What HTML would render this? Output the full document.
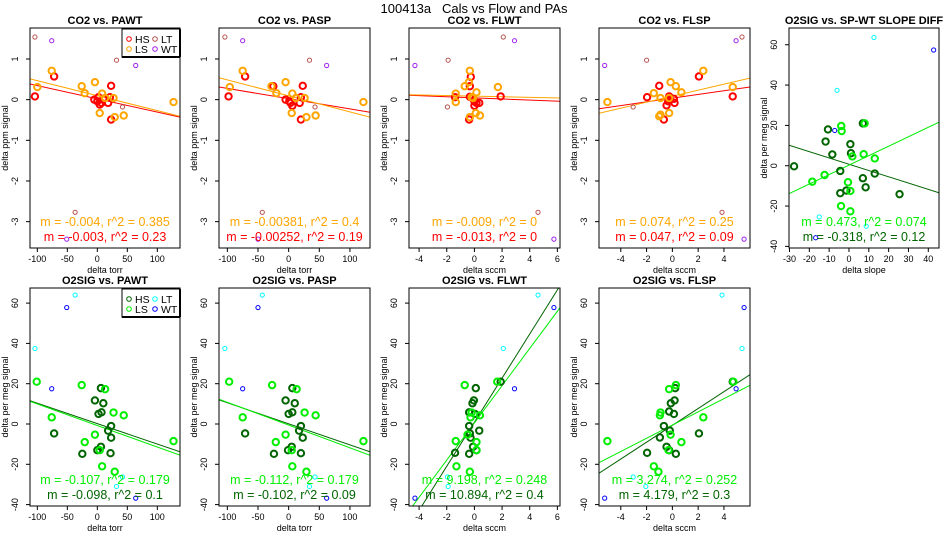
<!DOCTYPE html>
<html><head><meta charset="utf-8"><style>
html,body{margin:0;padding:0;background:#fff;}
svg{display:block;font-family:"Liberation Sans",sans-serif;}
</style></head><body>
<svg id="fig" width="950" height="550" viewBox="0 0 950 550"></svg>
<script>
// ---- data (per panel, per series: [x, y]) ----
const co2_pawt_HS=[[-104,0.08],[-72,0.57],[-5,0],[0,-0.04],[4,-0.12],[7,-0.08],[23,0.34],[21,0.06],[18,-0.08],[23,-0.49],[2,0.06],[10,0.02]];
const co2_pawt_LS=[[-100,0.31],[-76,0.71],[-26,0.33],[-21,0.16],[-4,0.43],[8,0.15],[4,-0.33],[27,0.04],[29,-0.43],[44,-0.39],[127,-0.06],[13,0.04]];
const co2_pawt_LT=[[-104,1.54],[32,0.97],[42,-0.18],[-37,-2.77]];
const co2_pawt_WT=[[-76,1.45],[64,0.84],[-51,-3.43]];
const co2_pasp_HS=[[-98,0.08],[-71,0.57],[-25,0.33],[-5,0],[1,-0.04],[6,-0.15],[18,-0.08],[20,0.06],[23,0.34],[20,-0.49],[3,-0.08]];
const co2_pasp_LS=[[-96,0.31],[-75,0.71],[-28,0.33],[-20,0.16],[-5,0.43],[6,0.15],[5,-0.33],[26,0.04],[29,-0.43],[44,-0.39],[122,-0.06],[12,0.04]];
const co2_pasp_LT=[[-104,1.54],[34,0.97],[43,-0.18],[-43,-2.77]];
const co2_pasp_WT=[[-75,1.45],[62,0.84],[-50,-3.43]];
const co2_flwt_HS=[[-0.26,0.56],[-0.33,0.33],[-1.4,0.06],[-0.33,0.07],[0,-0.04],[0,-0.15],[0.15,-0.08],[0.35,-0.08],[-0.38,-0.49],[1.9,0.08],[-0.15,0.04]];
const co2_flwt_LS=[[-0.33,0.71],[-0.4,0.43],[-0.7,0.33],[-1.35,0.15],[-1.35,-0.06],[0.15,0.18],[1.7,0.31],[-0.33,-0.43],[0.1,-0.33],[0.4,-0.39],[-0.1,0.04],[-0.2,0.06]];
const co2_flwt_LT=[[2.09,1.54],[-1.9,0.97],[-1.95,-0.18],[4.6,-2.77]];
const co2_flwt_WT=[[2.9,1.45],[-4.3,0.84],[5.75,-3.43]];
const co2_flsp_HS=[[-1.96,0.06],[-1.02,0.34],[-0.66,-0.49],[-0.25,0.08],[-0.32,-0.04],[-0.45,-0.14],[0.12,0.02],[0.17,-0.08],[-0.2,0],[2.06,0.57],[4.68,0.08]];
const co2_flsp_LS=[[-5.04,-0.06],[-1.44,0.16],[-0.92,0.04],[-1.02,-0.41],[-0.92,-0.37],[-0.25,-0.33],[-0.14,0.43],[0.27,0.33],[0.7,0.18],[2.4,0.71],[4.68,0.31],[-0.25,0.04]];
const co2_flsp_LT=[[-3.04,-0.18],[-2.0,0.97],[5.4,1.54],[3.85,-2.77]];
const co2_flsp_WT=[[-5.25,0.84],[4.94,1.45],[5.56,-3.43]];
const o2_slope_HS=[[-27.7,-0.3],[-11.8,12],[-8.4,5.6],[-4.4,-2.6],[0.7,10.7],[1,6.2],[7,21],[7,-6.2],[-4.4,-13.6],[-1.3,-12.3],[8.4,-10.7],[13,-3.9],[25.5,-14.1],[-10.6,18]];
const o2_slope_LS=[[-18.5,-7.9],[-12.3,-4.6],[-3.9,19.7],[1.7,4.6],[-0.5,-8.2],[0.7,-12.5],[-4,-20],[0.7,-22.6],[7.4,5.7],[13,3.6],[7.9,21],[-3.7,17.2]];
const o2_slope_LT=[[12.6,63.6],[-6,37.4],[-15,-25.4],[8.7,-30]];
const o2_slope_WT=[[42.7,57.4],[-7.2,17.5],[-16.8,-35.7]];
const o2_pawt_HS=[[-4,11.7],[2,5],[7,5.8],[10,10.3],[23,-1],[18,-3.3],[23,-6.8],[6,-11.3],[0,-13],[-25,-14.8],[-72,-4.7],[22,-14.5],[6,17.8]];
const o2_pawt_LS=[[-101,21],[-76,3.3],[-26,19.3],[-21,-9],[-4,-5.3],[4,-13],[8,-21],[27,5.7],[29,-23.7],[44,4.3],[127,-8.5],[13,17.3]];
const o2_pawt_LT=[[-104,37.5],[-37,64],[42,-26.3],[32,-31]];
const o2_pawt_WT=[[-51,57.8],[-76,17.5],[64,-36.8]];
const o2_pasp_HS=[[-5,11.7],[0,5],[6,5.8],[10,10.3],[20,-1],[17,-3.3],[23,-6.8],[5,-11.3],[-1,-13],[-24,-14.8],[-71,-4.7],[20,-14.5],[6,17.8]];
const o2_pasp_LS=[[-97,21],[-75,3.3],[-27,19.3],[-21,-9],[-5,-5.3],[5,-13],[6,-21],[26,5.7],[29,-23.7],[44,4.3],[122,-8.5],[13,17.3]];
const o2_pasp_LT=[[-104,37.5],[-43,64],[43,-26.3],[34,-31]];
const o2_pasp_WT=[[-50,57.8],[-75,17.5],[62,-36.8]];
const o2_flwt_HS=[[-0.04,11.7],[-0.14,10.3],[-0.38,5.8],[0.03,5],[-0.38,-1],[0.35,-3.3],[-0.33,-4.7],[-0.28,-6.8],[-0.1,-11.3],[0.15,-13],[-1.4,-14.3],[-0.38,-14.8],[1.9,21],[0.1,17.8]];
const o2_flwt_LS=[[-0.7,19.3],[1.65,21],[-0.28,3.3],[0.4,4.3],[-0.2,5.7],[-0.5,-5.3],[-1.35,-8.5],[0.15,-9],[-1.3,-21],[-0.33,-23.7],[0.15,-13]];
const o2_flwt_LT=[[4.6,64],[2.09,37.5],[-1.95,-26.3],[-1.9,-31]];
const o2_flwt_WT=[[5.75,57.8],[2.9,17.5],[-4.3,-36.8]];
const o2_flsp_HS=[[0.17,11.7],[-0.12,10.3],[-0.25,6.2],[0.12,5],[-0.66,-1],[-0.2,-3.3],[-0.97,-6.7],[-0.45,-11.3],[-0.25,-13],[-1.96,-14.3],[0.27,-14.8],[2.06,-4.7],[4.68,21],[0.22,17.8]];
const o2_flsp_LS=[[0.27,19.3],[4.73,21],[-0.92,5.7],[-0.97,4.3],[2.4,3.3],[-0.14,-5.3],[0.7,-9],[-5.04,-8.5],[-1.44,-21],[-1.08,-23.7],[-0.3,-13],[-0.25,17.3]];
const o2_flsp_LT=[[3.85,64],[5.4,37.5],[-3.04,-26.3],[-2.06,-31]];
const o2_flsp_WT=[[5.56,57.8],[4.94,17.5],[-5.25,-36.8]];
// fit lines: [intercept, slope]
const fit_co2_pawt=[[0.02,-0.00326],[0.098,-0.00368]];
const fit_co2_pasp=[[0.024,-0.002517],[0.093,-0.003938]];
const fit_co2_flwt=[[0.044,-0.0135],[0.086,-0.00735]];
const fit_co2_flsp=[[0.036,0.0455],[0.086,0.0738]];
const fit_o2_slope=[[0.75,-0.3118],[0.31,0.469]];
const fit_o2_pawt=[[0.17,-0.1012],[-0.76,-0.1068]];
const fit_o2_pasp=[[0.1,-0.1047],[-0.52,-0.1129]];
const fit_o2_flwt=[[0.9,10.94],[0.55,9.234]];
const fit_o2_flsp=[[-0.67,4.18],[-0.54,3.279]];
// ticks
const ticksTorr=[-100,-50,0,50,100];
const ticksFlwt=[-4,-2,0,2,4,6];
const ticksFlsp=[-4,-2,0,2,4];
const ticksSlope=[-30,-20,-10,0,10,20,30,40];
const ticksCO2=[1,0,-1,-2,-3];
const ticksO2=[60,40,20,0,-20,-40];
// stat labels
const stats_co2_pawt=["m = -0.004, r^2 = 0.385","m = -0.003, r^2 = 0.23"];
const stats_co2_pasp=["m = -0.00381, r^2 = 0.4","m = -0.00252, r^2 = 0.19"];
const stats_co2_flwt=["m = -0.009, r^2 = 0","m = -0.013, r^2 = 0"];
const stats_co2_flsp=["m = 0.074, r^2 = 0.25","m = 0.047, r^2 = 0.09"];
const stats_o2_slope=["m = 0.473, r^2 = 0.074","m = -0.318, r^2 = 0.12"];
const stats_o2_pawt=["m = -0.107, r^2 = 0.179","m = -0.098, r^2 = 0.1"];
const stats_o2_pasp=["m = -0.112, r^2 = 0.179","m = -0.102, r^2 = 0.09"];
const stats_o2_flwt=["m = 9.198, r^2 = 0.248","m = 10.894, r^2 = 0.4"];
const stats_o2_flsp=["m = 3.274, r^2 = 0.252","m = 4.179, r^2 = 0.3"];

const NS="http://www.w3.org/2000/svg";
const svg=document.getElementById('fig');
function mk(tag,attrs,parent){const e=document.createElementNS(NS,tag);for(const k in attrs)e.setAttribute(k,attrs[k]);(parent||svg).appendChild(e);return e;}

const CO2C={HS:'#ff0000',LS:'#ffa500',LT:'#b5524f',WT:'#a020f0'};
const O2C={HS:'#006400',LS:'#00ee00',LT:'#00ffff',WT:'#0000ff'};
const cols=[[30,180],[219,370],[409,560],[599,750],[789,939]];
const rows=[[28,248],[288,506]];

const panels=[
 {c:0,r:0,title:'CO2 vs. PAWT',xd:[-112.2,137.8],yd:[1.762,-3.648],xt:ticksTorr,yt:ticksCO2,xl:'delta torr',yl:'delta ppm signal',s:[co2_pawt_HS,co2_pawt_LS,co2_pawt_LT,co2_pawt_WT],f:fit_co2_pawt,st:stats_co2_pawt,col:CO2C,leg:true,name:'co2-vs-pawt'},
 {c:1,r:0,title:'CO2 vs. PASP',xd:[-113.6,132.7],yd:[1.762,-3.648],xt:ticksTorr,yt:ticksCO2,xl:'delta torr',yl:'delta ppm signal',s:[co2_pasp_HS,co2_pasp_LS,co2_pasp_LT,co2_pasp_WT],f:fit_co2_pasp,st:stats_co2_pasp,col:CO2C,name:'co2-vs-pasp'},
 {c:2,r:0,title:'CO2 vs. FLWT',xd:[-4.73,6.19],yd:[1.762,-3.648],xt:ticksFlwt,yt:ticksCO2,xl:'delta sccm',yl:'delta ppm signal',s:[co2_flwt_HS,co2_flwt_LS,co2_flwt_LT,co2_flwt_WT],f:fit_co2_flwt,st:stats_co2_flwt,col:CO2C,name:'co2-vs-flwt'},
 {c:3,r:0,title:'CO2 vs. FLSP',xd:[-5.69,6.02],yd:[1.762,-3.648],xt:ticksFlsp,yt:ticksCO2,xl:'delta sccm',yl:'delta ppm signal',s:[co2_flsp_HS,co2_flsp_LS,co2_flsp_LT,co2_flsp_WT],f:fit_co2_flsp,st:stats_co2_flsp,col:CO2C,name:'co2-vs-flsp'},
 {c:4,r:0,title:'O2SIG vs. SP-WT SLOPE DIFF',xd:[-30.25,45.4],yd:[68.3,-40.8],xt:ticksSlope,yt:ticksO2,xl:'delta slope',yl:'delta per meg signal',s:[o2_slope_HS,o2_slope_LS,o2_slope_LT,o2_slope_WT],f:fit_o2_slope,st:stats_o2_slope,col:O2C,name:'o2-vs-slope-diff'},
 {c:0,r:1,title:'O2SIG vs. PAWT',xd:[-112.2,137.8],yd:[67.5,-40.7],xt:ticksTorr,yt:ticksO2,xl:'delta torr',yl:'delta per meg signal',s:[o2_pawt_HS,o2_pawt_LS,o2_pawt_LT,o2_pawt_WT],f:fit_o2_pawt,st:stats_o2_pawt,col:O2C,leg:true,name:'o2-vs-pawt'},
 {c:1,r:1,title:'O2SIG vs. PASP',xd:[-113.6,132.7],yd:[67.5,-40.7],xt:ticksTorr,yt:ticksO2,xl:'delta torr',yl:'delta per meg signal',s:[o2_pasp_HS,o2_pasp_LS,o2_pasp_LT,o2_pasp_WT],f:fit_o2_pasp,st:stats_o2_pasp,col:O2C,name:'o2-vs-pasp'},
 {c:2,r:1,title:'O2SIG vs. FLWT',xd:[-4.73,6.19],yd:[67.5,-40.7],xt:ticksFlwt,yt:ticksO2,xl:'delta sccm',yl:'delta per meg signal',s:[o2_flwt_HS,o2_flwt_LS,o2_flwt_LT,o2_flwt_WT],f:fit_o2_flwt,st:stats_o2_flwt,col:O2C,name:'o2-vs-flwt'},
 {c:3,r:1,title:'O2SIG vs. FLSP',xd:[-5.69,6.02],yd:[67.5,-40.7],xt:ticksFlsp,yt:ticksO2,xl:'delta sccm',yl:'delta per meg signal',s:[o2_flsp_HS,o2_flsp_LS,o2_flsp_LT,o2_flsp_WT],f:fit_o2_flsp,st:stats_o2_flsp,col:O2C,name:'o2-vs-flsp'}
];

const mt=mk('text',{x:474,y:13,'text-anchor':'middle','font-size':'13px',fill:'#000',style:'white-space:pre'});
mt.textContent='100413a\u00a0\u00a0\u00a0Cals vs Flow and PAs';



const keys=['HS','LS','LT','WT'];
panels.forEach((p,i)=>{
 const [L,R]=cols[p.c],[T,B]=rows[p.r];
 const sx=v=>L+(v-p.xd[0])/(p.xd[1]-p.xd[0])*(R-L);
 const sy=v=>T+(v-p.yd[0])/(p.yd[1]-p.yd[0])*(B-T);
 const g=mk('g',{});
 
 
 const cp=mk('clipPath',{id:'cp'+i},g);mk('rect',{x:L,y:T,width:R-L,height:B-T},cp);
 const t=mk('text',{x:(L+R)/2,y:T-4,'text-anchor':'middle','font-size':'11px','font-weight':'bold'},g);
 t.textContent=p.title;
 
 
 const fc=[p.col.HS,p.col.LS];
 p.f.forEach((ab,k)=>{
  const x0=p.xd[0],x1=p.xd[1];
  const ln=mk('line',{x1:sx(x0),y1:sy(ab[0]+ab[1]*x0),x2:sx(x1),y2:sy(ab[0]+ab[1]*x1),stroke:fc[k],'stroke-width':1,'clip-path':'url(#cp'+i+')'},g);
  
  
 });
 p.s.forEach((arr,k)=>{
  const thick=k<2;
  arr.forEach(d=>{
   const c=mk('circle',{cx:sx(d[0]),cy:sy(d[1]),r:thick?3.2:2.1,fill:'none',stroke:p.col[keys[k]],'stroke-width':thick?2:1},g);
   
   
  });
 });
 const box=mk('rect',{x:L,y:T,width:R-L,height:B-T,fill:'none',stroke:'#000','stroke-width':1},g);
 
 
 const xa=mk('g',{},g);
 
 
 mk('line',{x1:sx(p.xt[0]),x2:sx(p.xt[p.xt.length-1]),y1:B,y2:B,stroke:'#000'},xa);
 p.xt.forEach(v=>{
  mk('line',{x1:sx(v),x2:sx(v),y1:B,y2:B+4,stroke:'#000'},xa);
  const tl=mk('text',{x:sx(v),y:B+14,'text-anchor':'middle','font-size':'9px'},xa);
  tl.textContent=String(v);
  
  
 });
 const xt=mk('text',{x:(L+R)/2,y:B+25,'text-anchor':'middle','font-size':'9px'},g);
 xt.textContent=p.xl;
 
 
 const ya=mk('g',{},g);
 
 
 mk('line',{x1:L,x2:L,y1:sy(p.yt[0]),y2:sy(p.yt[p.yt.length-1]),stroke:'#000'},ya);
 p.yt.forEach(v=>{
  mk('line',{x1:L-4,x2:L,y1:sy(v),y2:sy(v),stroke:'#000'},ya);
  const tx=L-12,ty=sy(v);
  const tl=mk('text',{x:tx,y:ty,'text-anchor':'middle','font-size':'9px',transform:'rotate(-90 '+tx+' '+ty+')'},ya);
  tl.textContent=String(v);
  
  
 });
 const yx=L-22,yy=(T+B)/2;
 const yt=mk('text',{x:yx,y:yy,'text-anchor':'middle','font-size':'9px',transform:'rotate(-90 '+yx+' '+yy+')'},g);
 yt.textContent=p.yl;
 
 
 const s1=mk('text',{x:(L+R)/2,y:B-22,'text-anchor':'middle','font-size':'12.5px',fill:p.col.LS},g);
 s1.textContent=p.st[0];
 
 
 const s2=mk('text',{x:(L+R)/2,y:B-7,'text-anchor':'middle','font-size':'12.5px',fill:p.col.HS},g);
 s2.textContent=p.st[1];
 
 
 if(p.leg){
  const lg=mk('g',{},g);
  
  
  mk('rect',{x:122,y:T+1,width:58,height:28,fill:'#fff',stroke:'#000'},lg);
  mk('line',{x1:180,y1:T+1,x2:180,y2:T+29,stroke:'#000','stroke-width':2},lg);
  mk('line',{x1:122,y1:T+29,x2:180,y2:T+29,stroke:'#000','stroke-width':2},lg);
  [['HS',129,T+11],['LS',129,T+21],['LT',155,T+11],['WT',155,T+21]].forEach(e=>{
   const c=mk('circle',{cx:e[1],cy:e[2],r:2.3,fill:'none',stroke:p.col[e[0]],'stroke-width':1},lg);
   
   
   const tx=mk('text',{x:e[1]+6,y:e[2]+4,'font-size':'10.5px'},lg);
   tx.textContent=e[0];
   
   
  });
 }
});
</script>
</body></html>
